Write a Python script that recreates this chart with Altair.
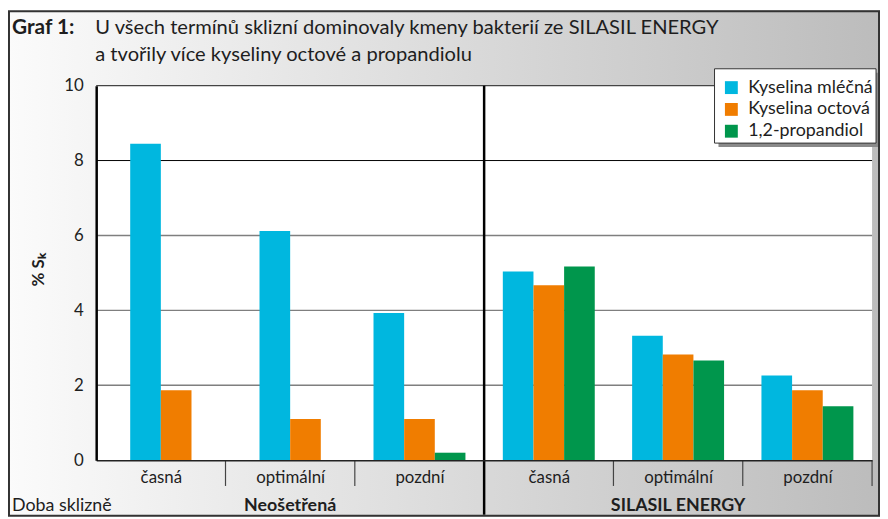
import altair as alt
import pandas as pd

# ---------------- data ----------------
groups = ["Neošetřená", "SILASIL ENERGY"]
terms = ["časná", "optimální", "pozdní"]
series_names = ["Kyselina mléčná", "Kyselina octová", "1,2-propandiol"]
# order: Neošetřená časná, optimální, pozdní, SILASIL časná, optimální, pozdní
lactic = [8.45, 6.12, 3.93, 5.04, 3.32, 2.26]
acetic = [1.87, 1.10, 1.10, 4.67, 2.82, 1.87]
propanediol = [None, None, 0.20, 5.17, 2.66, 1.44]
y_ticks = [0, 2, 4, 6, 8, 10]
colors = ["#00b7df", "#f07d00", "#00964c"]
x_row_label = "Doba sklizně"
y_title = "% Sₖ"
title_lead = "Graf 1:"
title_lines = ["U všech termínů sklizní dominovaly kmeny bakterií ze SILASIL ENERGY",
               "a tvořily více kyseliny octové a propandiolu"]

cats = [(g, t) for g in groups for t in terms]
rows = []
for ci, (g, t) in enumerate(cats):
    present = [(s, v[ci]) for s, v in zip(series_names, [lactic, acetic, propanediol]) if v[ci] is not None]
    for j, (s, val) in enumerate(present):
        rows.append({"ci": ci, "group": g, "term": t, "series": s, "value": val, "j": j, "n": len(present)})
df = pd.DataFrame(rows)

boundaries = pd.DataFrame({"b": [i for i in range(1, len(cats) + 1) if i != len(terms)]})
grid_df = pd.DataFrame({"v": y_ticks[1:]})
one = pd.DataFrame({"a": [0]})

# ---------------- layout ----------------
W, H = 783, 378
PL, PT, PR, PB = 89, 76, 8, 57
FONT = "Lato"
TXT = "#1e1e1e"
BW = 0.237  # bar width in category units

xscale = alt.Scale(domain=[0, len(cats)], nice=False, zero=False)
yscale = alt.Scale(domain=[0, 10], nice=False)

term_arr = "[" + ",".join(f"'{t}'" for t in terms) + "]"

xaxis = alt.Axis(
    title=None, values=[i + 0.5 for i in range(len(cats))],
    labelExpr=f"{term_arr}[floor(datum.value) % {len(terms)}]",
    ticks=False, grid=False, domainColor="#222", domainWidth=1.5,
    labelFont=FONT, labelFontSize=17, labelColor=TXT, labelAngle=0,
    labelBaseline="alphabetic", labelPadding=23, zindex=1, labelFlush=False,
)
yaxis = alt.Axis(
    title=None, values=y_ticks, ticks=False, grid=False,
    domainColor="#000", domainWidth=2.5,
    labelFont=FONT, labelFontSize=17, labelColor=TXT, labelPadding=13, zindex=1,
)

bg = alt.Chart(one).mark_rect(
    color=alt.LinearGradient(
        gradient="linear", x1=0, x2=1, y1=0, y2=0,
        stops=[alt.GradientStop(offset=0, color="#fbfbfb"),
               alt.GradientStop(offset=1, color="#bcbcbc")],
    )
).encode(x=alt.value(-PL), x2=alt.value(W + PR), y=alt.value(-PT), y2=alt.value(H + PB))

plotbg = alt.Chart(one).mark_rect(color="white").encode(
    x=alt.value(0), x2=alt.value(W), y=alt.value(0), y2=alt.value(H)
)

def gridline(cond, color, width):
    return alt.Chart(grid_df).transform_filter(cond).mark_rule(
        color=color, strokeWidth=width
    ).encode(y=alt.Y("v:Q", scale=yscale, axis=yaxis), x=alt.value(0), x2=alt.value(W))

grid_gray = gridline("datum.v < 8", "#7f7f7f", 1.5)
grid_black = gridline("datum.v == 8", "#000", 1)
grid_top = gridline("datum.v == 10", "#444", 1.2)

bars = alt.Chart(df).transform_calculate(
    x0=f"datum.ci + 0.5 + (datum.j - datum.n / 2) * {BW}",
    x1=f"datum.ci + 0.5 + (datum.j + 1 - datum.n / 2) * {BW}",
).mark_rect().encode(
    x=alt.X("x0:Q", scale=xscale, axis=xaxis),
    x2="x1:Q",
    y=alt.Y("value:Q", scale=yscale, axis=yaxis),
    y2=alt.datum(0),
    color=alt.Color(
        "series:N", sort=series_names,
        scale=alt.Scale(domain=series_names, range=colors),
        legend=alt.Legend(
            orient="none", legendX=632, legendY=-7, title=None, padding=0,
            symbolType="square", symbolSize=169, symbolStrokeWidth=0, symbolOpacity=1,
            labelFont=FONT, labelFontSize=18, labelColor=TXT, labelOffset=8,
            rowPadding=4, zindex=1,
        ),
    ),
)

ticks = alt.Chart(boundaries).mark_rule(color="#444", strokeWidth=1.2).encode(
    x=alt.X("b:Q", scale=xscale, axis=xaxis), y=alt.value(H), y2=alt.value(H + 26)
)

separator = alt.Chart(pd.DataFrame({"b": [len(terms)]})).mark_rule(color="#000", strokeWidth=2.5).encode(
    x=alt.X("b:Q", scale=xscale, axis=xaxis), y=alt.value(0), y2=alt.value(H + 55)
)

group_df = pd.DataFrame({"g": groups, "c": [len(terms) * (i + 0.5) for i in range(len(groups))]})
group_labels = alt.Chart(group_df).mark_text(
    font=FONT, fontSize=18, fontWeight="bold", color=TXT, align="center", baseline="alphabetic"
).encode(x=alt.X("c:Q", scale=xscale, axis=xaxis), y=alt.value(H + 51), text="g:N")

row_label = alt.Chart(pd.DataFrame({"t": [x_row_label]})).mark_text(
    font=FONT, fontSize=18, color=TXT, align="left", baseline="alphabetic"
).encode(x=alt.value(-85), y=alt.value(H + 51), text="t:N")

ytitle = alt.Chart(pd.DataFrame({"t": [y_title]})).mark_text(
    font=FONT, fontSize=17, fontWeight="bold", color=TXT, align="center", baseline="middle", angle=270
).encode(x=alt.value(-58), y=alt.value(186), text="t:N")

t_lead = alt.Chart(pd.DataFrame({"t": [title_lead]})).mark_text(
    font=FONT, fontSize=21, fontWeight="bold", color=TXT, align="left", baseline="alphabetic"
).encode(x=alt.value(-85), y=alt.value(-52), text="t:N")
t_l1 = alt.Chart(pd.DataFrame({"t": [title_lines[0]]})).mark_text(
    font=FONT, fontSize=20.3, color=TXT, align="left", baseline="alphabetic"
).encode(x=alt.value(-1), y=alt.value(-52), text="t:N")
t_l2 = alt.Chart(pd.DataFrame({"t": [title_lines[1]]})).mark_text(
    font=FONT, fontSize=20.3, color=TXT, align="left", baseline="alphabetic"
).encode(x=alt.value(-1), y=alt.value(-25), text="t:N")

leg_shadow = alt.Chart(one).mark_rect(color="#8a8a8a").encode(
    x=alt.value(628), x2=alt.value(791), y=alt.value(-13), y2=alt.value(62)
)
leg_box = alt.Chart(one).mark_rect(fill="white", stroke="#333", strokeWidth=1).encode(
    x=alt.value(624), x2=alt.value(787), y=alt.value(-17), y2=alt.value(58)
)

border = alt.Chart(one).mark_rect(fillOpacity=0, stroke="#333", strokeWidth=2).encode(
    x=alt.value(-PL + 1), x2=alt.value(W + PR - 1), y=alt.value(-PT + 1), y2=alt.value(H + PB - 1)
)

chart = alt.layer(
    bg, plotbg, grid_gray, grid_black, grid_top, bars, ticks, separator,
    group_labels, row_label, ytitle, t_lead, t_l1, t_l2, leg_shadow, leg_box, border,
).properties(
    width=W, height=H,
    autosize=alt.AutoSizeParams(type="none"),
    padding={"left": PL, "top": PT, "right": PR, "bottom": PB},
).configure_view(stroke=None)

chart.save("out.html", embed_options={"renderer": "svg", "actions": False})
